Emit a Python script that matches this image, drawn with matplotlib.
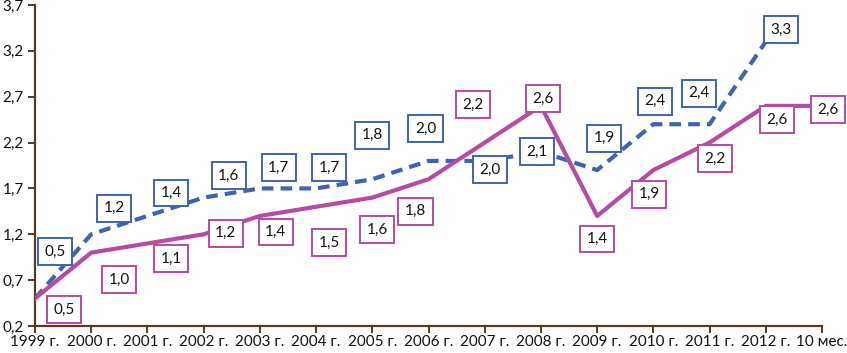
import matplotlib.pyplot as plt

plt.rcParams['font.family'] = ['Lato', 'DejaVu Sans']

# data
years = ["1999 г.", "2000 г.", "2001 г.", "2002 г.", "2003 г.", "2004 г.", "2005 г.",
         "2006 г.", "2007 г.", "2008 г.", "2009 г.", "2010 г.", "2011 г.", "2012 г.", "10 мес."]
blue_vals = [0.5, 1.2, 1.4, 1.6, 1.7, 1.7, 1.8, 2.0, 2.0, 2.1, 1.9, 2.4, 2.4, 3.3]
pink_vals = [0.5, 1.0, 1.1, 1.2, 1.4, 1.5, 1.6, 1.8, 2.2, 2.6, 1.4, 1.9, 2.2, 2.6, 2.6]
yticks = [0.2, 0.7, 1.2, 1.7, 2.2, 2.7, 3.2, 3.7]

# label offsets in pixels (dx, dy up)
blue_off = [(20, 47), (23, 26), (24, 23), (25, 22), (19, 21), (13, 21), (0, 44),
            (-3, 32), (5, -9), (-4, 0), (7, 32), (2, 23), (-11, 31), (15, 12)]
pink_off = [(29, -11), (28, -27), (24, -15), (22, 1), (16, -16), (13, -36), (5, -32),
            (-13, -32), (-12, 38), (2, 7), (0, -23), (-4, -24), (5, -16), (11, -14), (6, -4)]

blue_c = '#3F63AE'
pink_c = '#B64BA4'
axis_c = '#5A3A1E'

fig = plt.figure(figsize=(8.47, 3.53), dpi=100)
ax = fig.add_axes([35 / 847, 27 / 353, 787 / 847, 321 / 353])

xb = list(range(len(blue_vals)))
xp = list(range(len(pink_vals)))
ax.plot(xb, blue_vals, color=blue_c, lw=3, ls=(0, (2.8, 1.7)), zorder=2)
ax.plot(xp, pink_vals, color=pink_c, lw=3, zorder=3)

def fmt(v):
    return f"{v:.1f}".replace('.', ',')

for x, v, (dx, dy) in zip(xb, blue_vals, blue_off):
    ax.annotate(fmt(v), (x, v), xytext=(dx, dy), textcoords='offset pixels',
                ha='center', va='center', fontsize=11, color='#111111', zorder=5,
                bbox=dict(boxstyle='square,pad=0.42', fc='white', ec=blue_c, lw=1.4))
for x, v, (dx, dy) in zip(xp, pink_vals, pink_off):
    ax.annotate(fmt(v), (x, v), xytext=(dx, dy), textcoords='offset pixels',
                ha='center', va='center', fontsize=11, color='#111111', zorder=5,
                bbox=dict(boxstyle='square,pad=0.42', fc='white', ec=pink_c, lw=1.4))

ax.set_xlim(0, len(years) - 1)
ax.set_ylim(0.2, 3.7)
ax.set_xticks(range(len(years)))
ax.set_xticklabels(years)
ax.set_yticks(yticks)
ax.set_yticklabels([fmt(t) for t in yticks])

for s in ['top', 'right']:
    ax.spines[s].set_visible(False)
for s in ['left', 'bottom']:
    ax.spines[s].set_color(axis_c)
    ax.spines[s].set_linewidth(1.6)
ax.tick_params(colors=axis_c, width=1.4, length=5, labelsize=11, labelcolor='#111111')
ax.tick_params(axis='x', pad=1.5)
ax.tick_params(axis='y', pad=3)

fig.savefig('out.png', dpi=100)
